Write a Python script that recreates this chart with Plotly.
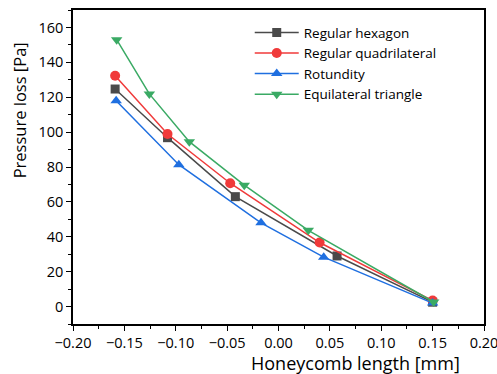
import plotly.graph_objects as go

names = ["Regular hexagon", "Regular quadrilateral", "Rotundity", "Equilateral triangle"]
hex_x = [-0.159, -0.108, -0.042, 0.057, 0.150]
hex_y = [124.7, 96.8, 63.0, 29.0, 2.5]
quad_x = [-0.159, -0.108, -0.047, 0.040, 0.150]
quad_y = [132.3, 98.9, 70.7, 36.7, 3.4]
rot_x = [-0.158, -0.097, -0.017, 0.044, 0.150]
rot_y = [118.0, 81.3, 48.0, 28.3, 2.0]
tri_x = [-0.1575, -0.1257, -0.0868, -0.0333, 0.029, 0.151]
tri_y = [153.0, 121.9, 94.5, 69.6, 43.7, 2.6]
x_title = "Honeycomb length [mm]"
y_title = "Pressure loss [Pa]"

series = [
    (hex_x, hex_y, "#4a4a4a", "square"),
    (quad_x, quad_y, "#f03a3a", "circle"),
    (rot_x, rot_y, "#1f6fe0", "triangle-up"),
    (tri_x, tri_y, "#3aaa64", "triangle-down"),
]

fig = go.Figure()
for name, (x, y, c, sym) in zip(names, series):
    fig.add_trace(go.Scatter(
        x=x, y=y, name=name, mode="lines+markers",
        line=dict(color=c, width=1.5),
        marker=dict(color=c, symbol=sym, size=10 if sym != "square" else 9),
    ))

font_family = "Open Sans, Noto Sans, sans-serif"
axis_common = dict(
    showline=True, linecolor="black", linewidth=1.5, mirror=True,
    ticks="outside", ticklen=5, tickwidth=1.2, tickcolor="black",
    showgrid=False, zeroline=False, automargin=False,
    ticklabeloverflow="allow",
    tickfont=dict(size=14.5, color="black", family=font_family),
)
fig.update_xaxes(
    range=[-0.2, 0.2], dtick=0.05, tickformat=".2f",
    minor=dict(ticks="outside", ticklen=3, dtick=0.025, tickcolor="black", tickwidth=1.2),
    **axis_common,
)
fig.update_yaxes(
    range=[-10, 170], dtick=20, tick0=0,
    minor=dict(ticks="outside", ticklen=3, dtick=10, tickcolor="black", tickwidth=1.2),
    **axis_common,
)
fig.add_annotation(text=x_title, xref="paper", yref="paper", x=0.687, y=-0.123,
                   xanchor="center", yanchor="middle", showarrow=False,
                   font=dict(size=18, color="black", family=font_family))
fig.add_annotation(text=y_title, xref="paper", yref="paper", x=-0.131, y=0.681,
                   xanchor="center", yanchor="middle", showarrow=False, textangle=-90,
                   font=dict(size=16.5, color="black", family=font_family))
fig.update_layout(
    width=497, height=374,
    margin=dict(l=73, r=13, t=10, b=50),
    plot_bgcolor="white", paper_bgcolor="white",
    legend=dict(x=0.43, y=0.977, xanchor="left", yanchor="top",
                font=dict(size=13.5, color="black", family=font_family),
                bgcolor="rgba(0,0,0,0)", tracegroupgap=0, itemwidth=44),
    font=dict(family=font_family),
)
fig.write_html("out.html", config={"displayModeBar": False},
               post_script="document.body.style.margin='0';document.body.style.overflow='hidden';")
